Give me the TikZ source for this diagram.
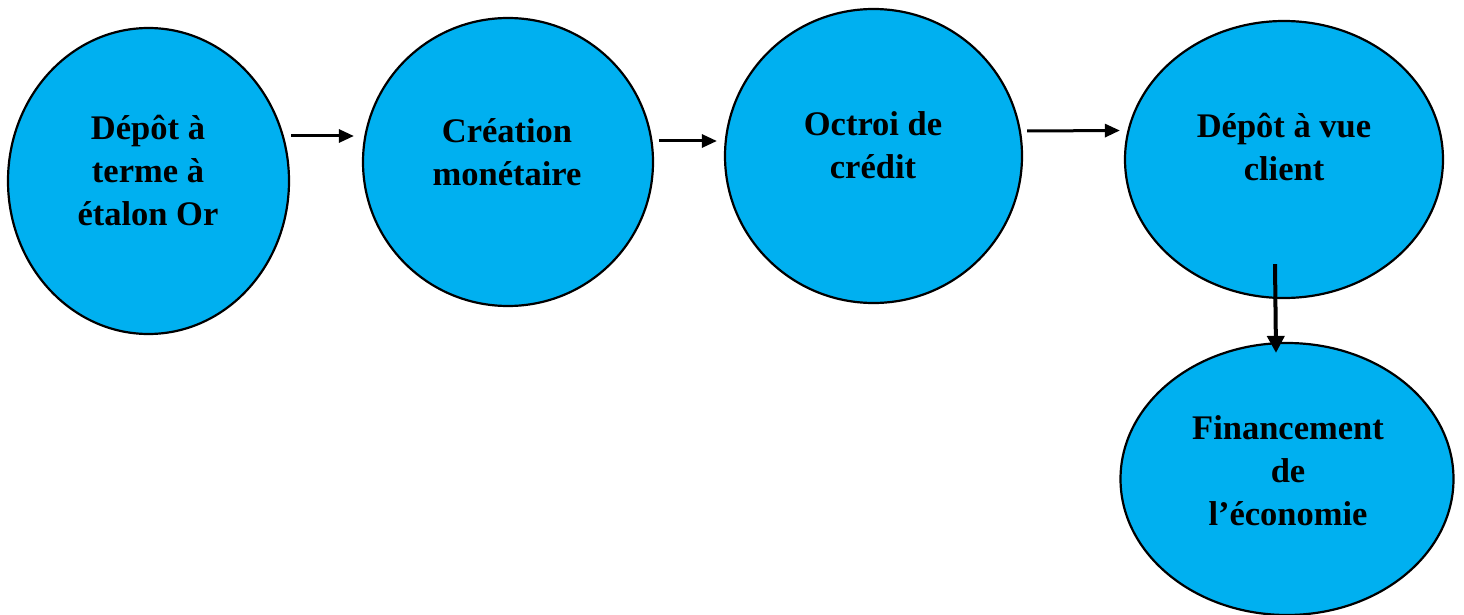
\documentclass[tikz,border=0pt]{standalone}
\usepackage{fontspec}
\setmainfont{Liberation Serif}
\usetikzlibrary{arrows.meta,shapes.geometric}
\definecolor{bubble}{RGB}{0,176,240}
\tikzset{
  bub/.style={ellipse,draw=black,line width=2.2pt,fill=bubble,inner sep=0pt},
  lbl/.style={anchor=base,align=center,font=\fontsize{34.5}{43}\selectfont\bfseries,inner sep=0pt},
  arr/.style={line width=3pt,-{Triangle[length=15pt,width=13pt]}},
  arrv/.style={line width=4pt,-{Triangle[length=17pt,width=17pt]}}
}
\begin{document}
\begin{tikzpicture}[x=1pt,y=1pt]
\useasboundingbox (0,0) rectangle (1464,-615);
\node[bub,minimum width=281pt,minimum height=306pt] (e1) at (148.5,-181) {};
\node[bub,minimum width=290pt,minimum height=288pt] (e2) at (508,-162) {};
\node[bub,minimum width=297pt,minimum height=294pt] (e3) at (873.5,-156) {};
\node[bub,minimum width=318pt,minimum height=277pt] (e4) at (1284,-159.5) {};
\node[bub,minimum width=333pt,minimum height=272pt] (e5) at (1287,-479) {};

\node[lbl] (t1) at (148,-225) {Dépôt à\\terme à\\étalon Or};
\node[lbl] (t2) at (507,-185) {Création\\monétaire};
\node[lbl] (t3) at (873,-178) {Octroi de\\crédit};
\node[lbl] (t4) at (1284,-180) {Dépôt à vue\\client};
\node[lbl] (t5) at (1288,-525) {Financement\\de\\l’économie};

\coordinate (a1s) at ([xshift=1pt,yshift=45pt]e1.east);
\coordinate (a1e) at ([xshift=-8pt,yshift=26pt]e2.west);
\coordinate (a2s) at ([xshift=5pt,yshift=21pt]e2.east);
\coordinate (a2e) at ([xshift=-7pt,yshift=15pt]e3.west);
\coordinate (a3s) at ([xshift=4pt,yshift=25pt]e3.east);
\coordinate (a3e) at ([xshift=-4pt,yshift=29pt]e4.west);
\coordinate (a4s) at ([xshift=-9pt,yshift=35pt]e4.south);
\coordinate (a4e) at ([xshift=-11pt,yshift=-11pt]e5.north);

\draw[arr] (a1s) -- (a1e);
\draw[arr] (a2s) -- (a2e);
\draw[arr] (a3s) -- (a3e);
\draw[arrv] (a4s) -- (a4e);
\end{tikzpicture}
\end{document}
